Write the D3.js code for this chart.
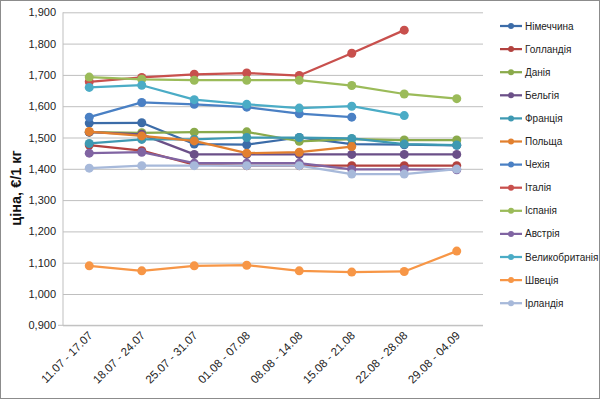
<!DOCTYPE html>
<html>
<head>
<meta charset="utf-8">
<script src="https://cdn.jsdelivr.net/npm/d3@7"></script>
<style>
  body { margin: 0; background: #fff; }
  text { font-family: "Liberation Sans", "DejaVu Sans", sans-serif; }
</style>
</head>
<body>
<div id="chart"></div>
<script>
// weeks on the x axis
var weeks = ["11.07 - 17.07", "18.07 - 24.07", "25.07 - 31.07", "01.08 - 07.08",
             "08.08 - 14.08", "15.08 - 21.08", "22.08 - 28.08", "29.08 - 04.09"];

// price per country, €/1 kg (null = no data)
var germany     = [1.546, 1.547, 1.479, 1.477, 1.500, 1.479, 1.477, 1.475];
var netherlands = [1.476, 1.458, 1.413, 1.410, 1.410, 1.410, 1.410, 1.410];
var denmark     = [1.517, 1.515, 1.517, 1.518, 1.488, 1.495, 1.492, 1.492];
var belgium     = [1.517, 1.510, 1.446, 1.446, 1.446, 1.446, 1.446, 1.446];
var france      = [1.481, 1.494, 1.494, 1.500, 1.500, 1.497, 1.479, 1.476];
var poland      = [1.519, 1.505, 1.489, 1.450, 1.453, 1.471, null, null];
var czechia     = [1.565, 1.612, 1.606, 1.597, 1.576, 1.565, null, null];
var italy       = [1.678, 1.692, 1.702, 1.706, 1.698, 1.769, 1.843, null];
var spain       = [1.693, 1.686, 1.683, 1.683, 1.683, 1.666, 1.639, 1.624];
var austria     = [1.450, 1.453, 1.418, 1.418, 1.418, 1.398, 1.398, 1.397];
var uk          = [1.660, 1.667, 1.621, 1.606, 1.594, 1.600, 1.570, null];
var sweden      = [1.090, 1.074, 1.090, 1.092, 1.074, 1.070, 1.072, 1.137];
var ireland     = [1.402, 1.410, 1.410, 1.410, 1.410, 1.383, 1.383, 1.399];

var names  = ["Німеччина", "Голландія", "Данія", "Бельгія", "Франція", "Польща", "Чехія",
              "Італія", "Іспанія", "Австрія", "Великобританія", "Швеція", "Ірландія"];
var values = [germany, netherlands, denmark, belgium, france, poland, czechia,
              italy, spain, austria, uk, sweden, ireland];
var colors = ["#3C6CA8", "#B2423F", "#8AAA4B", "#6B5088", "#3E99B2", "#E2802F", "#4A80C4",
              "#C8504D", "#9BBB59", "#8064A2", "#4BACC6", "#F79646", "#A7B9DA"];

var yTicks = [0.9, 1.0, 1.1, 1.2, 1.3, 1.4, 1.5, 1.6, 1.7, 1.8, 1.9];

var W = 600, H = 399;
var plot = {left: 63, right: 483, top: 12.3, bottom: 325.3};

var svg = d3.select("#chart").append("svg")
    .attr("width", W)
    .attr("height", H);

// outer border
svg.append("rect")
    .attr("x", 0.5).attr("y", 0.5)
    .attr("width", W - 1).attr("height", H - 1)
    .attr("fill", "#fff")
    .attr("stroke", "#8c8c8c");

var x = d3.scalePoint().domain(weeks).range([plot.left, plot.right]).padding(0.5);
var y = d3.scaleLinear().domain([0.9, 1.9]).range([plot.bottom, plot.top]);

// gridlines + y labels
var yAxis = d3.axisLeft(y)
    .tickValues(yTicks)
    .tickSize(-(plot.right - plot.left))
    .tickPadding(7)
    .tickFormat(d => d3.format(".3f")(d).replace(".", ","));

svg.append("g")
    .attr("transform", "translate(" + plot.left + ",0)")
    .call(yAxis)
    .call(g => g.select(".domain").remove())
    .call(g => g.selectAll(".tick line").attr("stroke", "#bfbfbf").attr("stroke-width", 1))
    .call(g => g.selectAll(".tick text").attr("font-size", "11px").attr("fill", "#222"));

// axis lines
svg.append("line")
    .attr("x1", plot.left).attr("x2", plot.left)
    .attr("y1", plot.top).attr("y2", plot.bottom)
    .attr("stroke", "#bfbfbf");
svg.append("line")
    .attr("x1", plot.left - 5).attr("x2", plot.right)
    .attr("y1", plot.bottom).attr("y2", plot.bottom)
    .attr("stroke", "#bfbfbf");

// x labels, rotated
svg.append("g").selectAll("text")
    .data(weeks)
    .enter().append("text")
    .attr("transform", d => "translate(" + (x(d) + 4) + "," + (plot.bottom + 11) + ") rotate(-45)")
    .attr("text-anchor", "end")
    .attr("font-size", "11.5px")
    .attr("fill", "#222")
    .text(d => d);

// y title
svg.append("text")
    .attr("transform", "translate(21,188) rotate(-90)")
    .attr("text-anchor", "middle")
    .attr("font-size", "14.5px")
    .attr("font-weight", "bold")
    .attr("fill", "#111")
    .text("ціна, €/1 кг");

// series
var line = d3.line()
    .defined(d => d != null)
    .x((d, i) => x(weeks[i]))
    .y(d => y(d));

values.forEach((vals, k) => {
    var g = svg.append("g");
    g.append("path")
        .datum(vals)
        .attr("fill", "none")
        .attr("stroke", colors[k])
        .attr("stroke-width", 2.25)
        .attr("stroke-linejoin", "round")
        .attr("d", line);
    g.selectAll("circle")
        .data(vals.map((v, i) => ({v: v, i: i})).filter(d => d.v != null))
        .enter().append("circle")
        .attr("cx", d => x(weeks[d.i]))
        .attr("cy", d => y(d.v))
        .attr("r", 4.5)
        .attr("fill", colors[k]);
});

// legend
var legend = svg.append("g").selectAll("g")
    .data(names)
    .enter().append("g")
    .attr("transform", (d, i) => "translate(500," + (26 + i * 23.1) + ")");
legend.append("line")
    .attr("x1", 0).attr("x2", 22)
    .attr("stroke", (d, i) => colors[i])
    .attr("stroke-width", 2.25);
legend.append("circle")
    .attr("cx", 11).attr("r", 3)
    .attr("fill", (d, i) => colors[i]);
legend.append("text")
    .attr("x", 25)
    .attr("dy", "0.35em")
    .attr("font-size", "10px")
    .attr("fill", "#222")
    .text(d => d);
</script>
</body>
</html>
